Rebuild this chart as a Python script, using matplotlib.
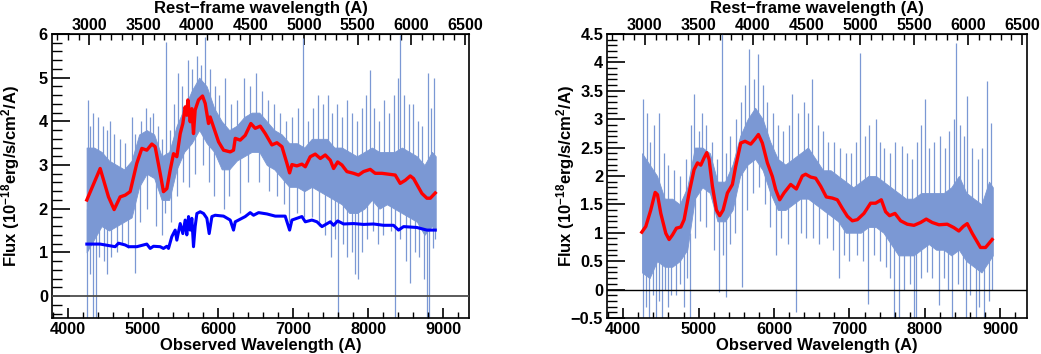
import matplotlib
matplotlib.use("Agg")
import matplotlib.pyplot as plt
from matplotlib.ticker import MultipleLocator, FuncFormatter

plt.rcParams["font.family"] = "Liberation Sans"
plt.rcParams["font.weight"] = "bold"
plt.rcParams["mathtext.fontset"] = "custom"
plt.rcParams["mathtext.rm"] = "Liberation Sans:bold"
plt.rcParams["mathtext.bf"] = "Liberation Sans:bold"
plt.rcParams["mathtext.it"] = "Liberation Sans:bold"

# redshift used for the rest-frame axis
zp1 = 1.429

# wavelength grid for the dense core of the noisy spectrum (observed A)
grid_wl = [4250, 4350, 4450, 4550, 4650, 4750, 4850, 4950, 5050, 5150,
           5250, 5350, 5450, 5550, 5650, 5750, 5850, 5950, 6050, 6150,
           6250, 6350, 6450, 6550, 6650, 6750, 6850, 6950, 7050, 7150,
           7250, 7350, 7450, 7550, 7650, 7750, 7850, 7950, 8050, 8150,
           8250, 8350, 8450, 8550, 8650, 8750, 8850, 8900]

# ---- left object ----
left_up = [3.4, 3.4, 3.3, 3.1, 3.0, 2.9, 3.1, 3.7, 3.8, 3.7,
           3.2, 3.3, 3.9, 4.3, 4.7, 5.0, 4.8, 4.3, 4.0, 3.8,
           3.9, 4.1, 4.2, 4.2, 4.0, 3.8, 3.7, 3.5, 3.5, 3.4,
           3.6, 3.6, 3.6, 3.4, 3.4, 3.3, 3.2, 3.3, 3.4, 3.3,
           3.3, 3.3, 3.4, 3.3, 3.2, 3.0, 3.3, 3.2]
left_lo = [1.0, 1.3, 1.6, 1.5, 1.6, 1.7, 1.8, 2.5, 2.8, 2.7,
           2.2, 2.2, 2.9, 3.3, 3.5, 3.8, 3.5, 3.3, 2.9, 2.9,
           3.1, 3.2, 3.3, 3.3, 3.0, 2.9, 2.7, 2.5, 2.5, 2.4,
           2.5, 2.4, 2.3, 2.2, 2.1, 1.9, 1.9, 2.0, 2.2, 2.0,
           2.1, 2.0, 1.9, 1.8, 1.7, 1.4, 1.6, 1.5]

# individual noise excursions: wavelength, bottom, top
left_spike_wl = [4265, 4300, 4330, 4400, 4470, 4520, 4560, 4620, 4700, 4760,
                 4850, 4900, 4980, 5040, 5090, 5140, 5200, 5250, 5305, 5360,
                 5420, 5470, 5520, 5600, 5660, 5720, 5780, 5830, 5900, 5960,
                 6020, 6100, 6180, 6250, 6350, 6420, 6500, 6580, 6660, 6740,
                 6820, 6900, 6980, 7060, 7139, 7200, 7260, 7330, 7400, 7460,
                 7520, 7580, 7650, 7720, 7780, 7850, 7920, 7970, 8019, 8080,
                 8150, 8210, 8280, 8340, 8400, 8427, 8480, 8540, 8600, 8660,
                 8720, 8800, 8840, 8880,
                 4260, 4300, 4330, 4370, 4420, 4480, 4520, 4580, 4650, 4720,
                 4800, 4900, 4960, 5060, 5180, 5260, 5300, 5380, 5450, 5530,
                 5620, 5700, 5800, 5880, 5950, 6080, 6150, 6300, 6400, 6550,
                 6680, 6780, 6880, 6950, 7050, 7150, 7250, 7350, 7420, 7500,
                 7560, 7605, 7660, 7720, 7780, 7820, 7860, 7920, 7980, 8060,
                 8130, 8200, 8300, 8361, 8430, 8500, 8560, 8620, 8680, 8740,
                 8783, 8810, 8860, 8890]
left_spike_lo = [2.5, 2.5, 2.5, 2.5, 2.5, 2.2, 2.2, 2.2, 2.2, 2.2,
                 2.4, 2.4, 3.0, 3.0, 3.0, 3.0, 2.8, 2.6, 2.6, 2.8,
                 3.2, 3.5, 3.6, 4.0, 4.0, 4.2, 4.2, 4.2, 4.0, 3.8,
                 3.5, 3.3, 3.3, 3.5, 3.6, 3.6, 3.6, 3.6, 3.4, 3.3,
                 3.2, 3.0, 3.0, 3.0, 2.9, 3.0, 3.0, 3.0, 3.0, 3.0,
                 2.8, 2.8, 2.8, 2.7, 2.7, 2.6, 2.6, 2.7, 2.7, 2.7,
                 2.6, 2.6, 2.6, 2.6, 2.6, 2.6, 2.6, 2.5, 2.5, 2.4,
                 2.3, 2.3, 2.3, 2.3,
                 -0.6, 0.5, -0.6, -0.6, 0.9, 0.8, 0.5, 0.9, 1.0, 1.2,
                 1.1, 0.52, 1.7, 2.0, 1.6, 1.4, 1.9, 1.7, 2.3, 2.6,
                 2.5, 2.8, 3.0, 2.6, 2.3, 2.0, 2.3, 1.9, 2.6, 2.6,
                 2.4, 2.3, 2.1, 1.7, 1.9, 1.8, 1.8, 1.6, 1.4, 0.9,
                 1.3, -0.6, 1.2, 0.9, 1.0, 0.5, 0.4, 1.0, 1.3, 1.5,
                 1.2, 1.4, 1.5, -0.6, 1.3, 0.8, 0.3, 1.0, 0.9, 0.4,
                 -0.6, -0.6, 1.1, 1.3]
left_spike_hi = [4.5, 3.9, 4.2, 4.1, 3.9, 3.8, 4.0, 3.7, 3.6, 3.5,
                 4.1, 3.7, 4.0, 4.3, 4.1, 4.2, 3.9, 3.6, 5.82, 3.8,
                 4.4, 5.1, 4.8, 5.4, 5.2, 5.5, 5.3, 5.93, 5.2, 4.8,
                 4.6, 5.0, 4.4, 4.5, 5.0, 4.8, 5.1, 4.7, 4.5, 4.4,
                 4.2, 4.0, 4.1, 4.3, 5.9, 4.0, 4.3, 4.6, 4.4, 4.6,
                 4.2, 4.4, 4.1, 4.5, 4.2, 4.0, 4.3, 4.6, 5.17, 4.3,
                 4.0, 4.5, 4.2, 4.6, 5.0, 5.97, 4.6, 4.4, 4.4, 4.0,
                 3.9, 5.1, 4.3, 5.0,
                 2.0, 2.0, 2.0, 2.0, 2.2, 2.2, 2.0, 2.2, 2.2, 2.2,
                 2.2, 2.2, 3.0, 3.0, 3.0, 2.6, 2.6, 2.8, 3.2, 3.6,
                 3.8, 4.0, 4.0, 3.8, 3.6, 3.4, 3.4, 3.5, 3.6, 3.6,
                 3.4, 3.3, 3.1, 3.0, 3.0, 3.0, 3.0, 3.0, 2.8, 2.8,
                 2.8, 2.5, 2.6, 2.5, 2.5, 2.5, 2.5, 2.5, 2.6, 2.8,
                 2.6, 2.6, 2.6, 2.5, 2.5, 2.4, 2.4, 2.4, 2.3, 2.2,
                 2.2, 2.2, 2.2, 2.2]

left_red_wl = [4253, 4431, 4542, 4617, 4697, 4764, 4830, 4919, 4986, 5052,
               5119, 5163, 5230, 5274, 5319, 5363, 5408, 5452, 5497, 5532,
               5563, 5585, 5599, 5630, 5652, 5674, 5696, 5741, 5794, 5830,
               5874, 5896, 5941, 6008, 6074, 6163, 6207, 6230, 6296, 6363,
               6438, 6496, 6563, 6630, 6718, 6785, 6852, 6918, 6954, 6985,
               7051, 7118, 7163, 7229, 7296, 7363, 7429, 7496, 7540, 7594,
               7651, 7717, 7806, 7872, 7939, 8028, 8094, 8183, 8272, 8361,
               8427, 8494, 8561, 8605, 8716, 8783, 8828, 8894]
left_red = [2.20, 2.92, 2.27, 1.98, 2.27, 2.31, 2.39, 3.04, 3.38, 3.34,
            3.48, 3.42, 2.81, 2.39, 2.46, 2.88, 3.26, 3.19, 3.72, 3.95,
            4.33, 4.14, 4.49, 3.99, 4.29, 3.72, 4.26, 4.49, 4.58, 4.41,
            3.95, 4.10, 3.87, 3.53, 3.34, 3.30, 3.34, 3.61, 3.57, 3.68,
            3.95, 3.84, 3.89, 3.72, 3.46, 3.51, 3.42, 3.04, 2.82, 3.01,
            2.98, 3.02, 2.96, 3.19, 3.25, 3.15, 3.23, 3.11, 2.92, 3.07,
            3.00, 2.85, 2.81, 2.77, 2.85, 2.90, 2.81, 2.81, 2.79, 2.77,
            2.58, 2.65, 2.75, 2.69, 2.35, 2.24, 2.24, 2.36]

left_blue_wl = [4253, 4431, 4564, 4631, 4675, 4764, 4808, 4919, 5008, 5052,
                5097, 5141, 5230, 5274, 5319, 5341, 5385, 5430, 5452, 5497,
                5532, 5563, 5585, 5608, 5630, 5652, 5674, 5696, 5719, 5763,
                5808, 5852, 5883, 5919, 5963, 6074, 6163, 6207, 6230, 6274,
                6363, 6429, 6474, 6541, 6652, 6763, 6895, 6954, 6985, 7051,
                7118, 7163, 7252, 7318, 7385, 7496, 7540, 7594, 7674, 7806,
                7939, 8072, 8205, 8338, 8405, 8472, 8649, 8783, 8894]
left_blue = [1.19, 1.19, 1.15, 1.13, 1.21, 1.17, 1.13, 1.13, 1.17, 1.19,
             1.09, 1.14, 1.13, 1.09, 1.14, 1.09, 1.36, 1.51, 1.28, 1.66,
             1.43, 1.74, 1.40, 1.82, 1.51, 1.78, 1.13, 1.59, 1.89, 1.93,
             1.89, 1.78, 1.43, 1.82, 1.85, 1.83, 1.74, 1.51, 1.70, 1.74,
             1.82, 1.91, 1.85, 1.91, 1.88, 1.83, 1.83, 1.51, 1.74, 1.78,
             1.82, 1.70, 1.74, 1.70, 1.59, 1.70, 1.62, 1.72, 1.65, 1.66,
             1.64, 1.65, 1.62, 1.62, 1.51, 1.59, 1.57, 1.51, 1.51]

# ---- right object ----
right_up = [2.4, 2.2, 2.0, 1.6, 1.6, 1.5, 1.8, 2.5, 2.5, 2.4,
            1.9, 1.9, 2.2, 2.7, 3.0, 3.2, 3.0, 2.6, 2.3, 2.2,
            2.3, 2.4, 2.5, 2.3, 2.1, 2.1, 2.0, 1.9, 1.8, 1.9,
            2.0, 2.0, 1.9, 1.8, 1.7, 1.6, 1.6, 1.7, 1.7, 1.7,
            1.7, 1.8, 2.0, 1.7, 1.6, 1.5, 1.9, 1.8]
right_lo = [0.3, 0.2, 0.5, 0.4, 0.4, 0.5, 0.7, 1.6, 1.8, 1.7,
            1.2, 1.2, 1.4, 2.0, 2.2, 2.3, 2.1, 1.7, 1.4, 1.4,
            1.5, 1.6, 1.6, 1.5, 1.4, 1.3, 1.2, 1.0, 1.0, 1.0,
            1.1, 1.1, 1.0, 0.8, 0.6, 0.6, 0.6, 0.7, 0.8, 0.7,
            0.7, 0.6, 0.7, 0.5, 0.4, 0.3, 0.5, 0.6]

right_spike_wl = [4265, 4318, 4360, 4410, 4477, 4540, 4600, 4680, 4760, 4830,
                  4900, 4940, 5000, 5042, 5100, 5180, 5250, 5307, 5360, 5420,
                  5500, 5560, 5620, 5669, 5730, 5793, 5850, 5910, 5980, 6050,
                  6120, 6200, 6243, 6320, 6400, 6450, 6499, 6580, 6650, 6720,
                  6800, 6880, 6950, 7020, 7080, 7135, 7200, 7260, 7346, 7400,
                  7460, 7540, 7600, 7700, 7760, 7830, 7900, 7950, 8000, 8060,
                  8120, 8200, 8260, 8320, 8380, 8415, 8470, 8520, 8561, 8620,
                  8700, 8760, 8817, 8870,
                  4265, 4300, 4344, 4390, 4433, 4480, 4521, 4560, 4596, 4640,
                  4700, 4760, 4800, 4840, 4883, 4950, 5020, 5100, 5200, 5272,
                  5320, 5369, 5420, 5480, 5572, 5640, 5720, 5800, 5880, 5950,
                  6020, 6090, 6180, 6287, 6360, 6430, 6520, 6600, 6700, 6780,
                  6861, 6930, 7000, 7100, 7180, 7250, 7320, 7400, 7480, 7540,
                  7590, 7656, 7720, 7800, 7854, 7885, 7950, 8030, 8100, 8186,
                  8250, 8300, 8362, 8440, 8500, 8539, 8600, 8671, 8720, 8782,
                  8848, 8890]
right_spike_lo = [1.5, 1.5, 1.5, 1.5, 1.2, 1.0, 1.0, 1.0, 1.0, 1.0,
                  1.5, 2.0, 2.0, 2.0, 2.0, 1.6, 1.4, 1.4, 1.4, 1.6,
                  2.0, 2.2, 2.4, 2.5, 2.6, 2.6, 2.4, 2.2, 2.0, 1.8,
                  1.7, 1.7, 1.8, 1.8, 1.9, 1.9, 1.9, 1.8, 1.7, 1.6,
                  1.5, 1.4, 1.4, 1.3, 1.3, 1.3, 1.4, 1.4, 1.4, 1.4,
                  1.3, 1.2, 1.1, 1.0, 1.0, 1.0, 1.0, 1.1, 1.1, 1.1,
                  1.1, 1.1, 1.1, 1.1, 1.1, 1.1, 1.1, 1.0, 1.0, 1.0,
                  0.9, 0.9, 0.9, 0.9,
                  -0.6, -0.3, -0.6, -0.1, -0.6, -0.2, -0.6, 0.0, -0.3, -0.1,
                  -0.1, 0.1, -0.3, 0.2, -0.6, 0.9, 1.2, 1.1, 0.7, -0.04,
                  0.6, -0.13, 0.8, 1.0, 0.05, 1.4, 1.7, 1.8, 1.5, 1.1,
                  0.6, 0.9, 0.8, -0.4, 1.0, 0.9, 0.9, 0.8, 0.9, 0.7,
                  0.2, 0.6, 0.5, 0.6, 0.5, -0.25, 0.6, 0.5, 0.4, 0.2,
                  -0.6, -0.6, 0.0, 0.1, -0.6, -0.6, 0.2, 0.3, 0.2, -0.28,
                  0.2, 0.0, -0.6, 0.1, 0.0, -0.6, -0.1, -0.6, -0.3, -0.6,
                  -0.2, 0.0]
right_spike_hi = [3.35, 3.1, 2.6, 2.9, 3.1, 2.4, 2.2, 2.1, 2.0, 2.3,
                  2.9, 3.45, 2.8, 3.1, 2.9, 2.6, 2.3, 4.6, 2.4, 2.7,
                  3.0, 3.3, 3.6, 4.23, 3.7, 4.15, 3.6, 3.3, 3.1, 2.9,
                  2.8, 2.9, 3.45, 3.1, 3.3, 3.1, 3.71, 2.9, 2.8, 2.6,
                  2.6, 2.5, 2.4, 2.4, 2.6, 4.17, 2.7, 2.9, 3.0, 2.6,
                  2.5, 2.4, 2.6, 2.52, 2.4, 2.3, 2.6, 2.9, 3.35, 2.5,
                  2.6, 2.7, 2.5, 2.8, 3.0, 4.35, 2.9, 2.7, 3.41, 2.5,
                  2.3, 2.5, 3.67, 2.94,
                  1.0, 1.0, 1.0, 1.0, 1.0, 1.0, 1.0, 1.0, 1.0, 1.0,
                  1.0, 1.0, 1.0, 1.0, 1.0, 2.0, 2.0, 2.0, 1.6, 1.5,
                  1.5, 1.5, 1.7, 1.9, 2.2, 2.5, 2.6, 2.6, 2.4, 2.0,
                  1.8, 1.8, 1.8, 1.8, 1.9, 1.9, 1.9, 1.8, 1.7, 1.6,
                  1.5, 1.5, 1.4, 1.4, 1.4, 1.4, 1.5, 1.4, 1.3, 1.3,
                  1.2, 1.2, 1.2, 1.2, 1.1, 1.1, 1.2, 1.2, 1.2, 1.2,
                  1.2, 1.2, 1.2, 1.2, 1.2, 1.1, 1.1, 1.0, 1.0, 1.0,
                  1.0, 1.0]

right_red_wl = [4247, 4300, 4366, 4424, 4455, 4499, 4565, 4609, 4653, 4706,
                4764, 4808, 4874, 4940, 4985, 5029, 5073, 5108, 5139, 5183,
                5236, 5280, 5325, 5382, 5448, 5492, 5559, 5616, 5691, 5748,
                5793, 5845, 5912, 5978, 6022, 6075, 6132, 6221, 6296, 6375,
                6419, 6486, 6552, 6618, 6693, 6773, 6839, 6905, 6972, 7038,
                7104, 7192, 7280, 7346, 7422, 7479, 7532, 7603, 7678, 7766,
                7855, 7943, 8018, 8097, 8186, 8296, 8384, 8450, 8508, 8561,
                8627, 8737, 8804, 8892]
right_red = [1.01, 1.11, 1.40, 1.71, 1.67, 1.34, 0.99, 0.88, 0.96, 1.08,
             1.10, 1.23, 1.70, 2.11, 2.23, 2.19, 2.32, 2.41, 2.29, 1.82,
             1.40, 1.30, 1.40, 1.70, 1.85, 2.17, 2.58, 2.61, 2.56, 2.65,
             2.73, 2.58, 2.23, 1.99, 1.76, 1.58, 1.70, 1.85, 1.77, 2.00,
             2.03, 1.98, 1.96, 1.82, 1.63, 1.61, 1.58, 1.43, 1.29, 1.21,
             1.23, 1.34, 1.52, 1.52, 1.58, 1.37, 1.30, 1.34, 1.21, 1.15,
             1.13, 1.18, 1.24, 1.18, 1.14, 1.15, 1.09, 1.03, 1.11, 1.16,
             0.99, 0.74, 0.74, 0.88]

spec_color = "#7b98d4"
ylabel = r"Flux (10$^{-18}$erg/s/cm$^{2}$/A)"


def root_fmt(v, pos):
    return ("%g" % v).replace("-", "\u2212")


fig = plt.figure(figsize=(10.41, 3.54), dpi=100)
ax1 = fig.add_axes([0.050, 0.102, 0.401, 0.802])
ax2 = fig.add_axes([0.5834, 0.102, 0.4029, 0.802])


def style(ax, ymin, ymax, ymaj, ymin_step, zcolor, zlw):
    ax.set_xlim(3790, 9350)
    ax.set_ylim(ymin, ymax)
    ax.axhline(0, color=zcolor, lw=zlw, zorder=3)
    ax.xaxis.set_major_locator(MultipleLocator(1000))
    ax.xaxis.set_minor_locator(MultipleLocator(200))
    ax.yaxis.set_major_locator(MultipleLocator(ymaj))
    ax.yaxis.set_minor_locator(MultipleLocator(ymin_step))
    ax.yaxis.set_major_formatter(FuncFormatter(root_fmt))
    ax.tick_params(axis="x", which="major", direction="in", length=7,
                   width=1.2, labelsize=11.8, pad=3, top=False)
    ax.tick_params(axis="x", which="minor", direction="in", length=4,
                   width=1.0, top=False)
    ax.tick_params(axis="y", which="major", direction="in", length=13,
                   width=1.2, labelsize=11.8, pad=3, right=False)
    ax.tick_params(axis="y", which="minor", direction="in", length=7,
                   width=1.0, right=False)
    for sp in ax.spines.values():
        sp.set_linewidth(1.2)
    ax.set_xlabel("Observed Wavelength (A)", fontsize=12, fontweight="bold")
    ax.xaxis.set_label_coords(0.5, -0.072)
    ax.set_ylabel(ylabel, fontsize=12, fontweight="bold")
    ax.yaxis.set_label_coords(-0.073, 0.5)
    sec = ax.secondary_xaxis("top", functions=(lambda x: x / zp1,
                                               lambda x: x * zp1))
    sec.xaxis.set_major_locator(MultipleLocator(500))
    sec.xaxis.set_minor_locator(MultipleLocator(100))
    sec.tick_params(which="major", direction="in", length=8, width=1.2,
                    labelsize=11.6, pad=1)
    sec.tick_params(which="minor", direction="in", length=4, width=1.0)
    for lab in ax.get_xticklabels() + ax.get_yticklabels() + sec.get_xticklabels():
        lab.set_fontweight("bold")
    bb = ax.get_position()
    fig.text((bb.x0 + bb.x1) / 2, 1 - 8.5 / 354, "Rest\u2212frame wavelength (A)",
             ha="center", va="center", fontsize=12, fontweight="bold")


# left panel
ax1.fill_between(grid_wl, left_lo, left_up, color=spec_color, lw=0.6,
                 edgecolor=spec_color, zorder=1)
ax1.vlines(left_spike_wl, left_spike_lo, left_spike_hi, color=spec_color,
           lw=0.9, zorder=1)
ax1.plot(left_blue_wl, left_blue, color="#0000ff", lw=2.2, zorder=4)
ax1.plot(left_red_wl, left_red, color="#ff0000", lw=2.4, zorder=5)
style(ax1, -0.5, 6, 1, 0.2, "0.3", 1.3)

# right panel
ax2.fill_between(grid_wl, right_lo, right_up, color=spec_color, lw=0.6,
                 edgecolor=spec_color, zorder=1)
ax2.vlines(right_spike_wl, right_spike_lo, right_spike_hi, color=spec_color,
           lw=0.9, zorder=1)
ax2.plot(right_red_wl, right_red, color="#ff0000", lw=2.4, zorder=5)
style(ax2, -0.5, 4.5, 0.5, 0.1, "black", 1.0)

fig.savefig("out.png", dpi=100)
